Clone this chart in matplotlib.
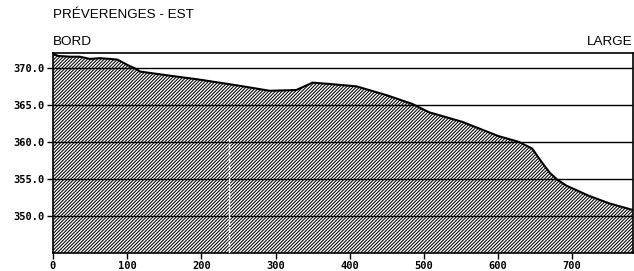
import matplotlib
matplotlib.use('Agg')
import matplotlib.pyplot as plt

plt.rcParams['font.family'] = ['Liberation Sans', 'DejaVu Sans']
plt.rcParams['hatch.linewidth'] = 0.75

# profile: distance from shore (m) vs elevation (m)
dist = [0, 7, 23, 36, 50, 63, 77, 87, 100, 113, 117, 153, 198, 250, 292, 328,
        350, 375, 409, 450, 485, 507, 552, 600, 628, 646, 658, 670, 680, 692,
        723, 750, 782]
elev = [371.9, 371.6, 371.5, 371.5, 371.2, 371.3, 371.2, 371.1, 370.4, 369.8,
        369.5, 369.0, 368.4, 367.6, 366.9, 367.0, 368.0, 367.8, 367.5, 366.3,
        365.1, 364.0, 362.7, 360.8, 360.0, 359.1, 357.4, 355.8, 354.9, 354.1,
        352.7, 351.7, 350.8]

levels = [350, 355, 360, 365, 370]
level_labels = ['350.0', '355.0', '360.0', '365.0', '370.0']
xticks = [0, 100, 200, 300, 400, 500, 600, 700]

y_min, y_max = 345, 372
x_max = 782

fig = plt.figure(figsize=(6.34, 2.71), dpi=100)
ax = fig.add_axes([53 / 634, 18 / 271, 580 / 634, 200 / 271])

ax.fill_between(dist, elev, y_min, facecolor='white', edgecolor='black',
                hatch='//////////', linewidth=0, zorder=1)
for lv in levels:
    ax.axhline(lv, color='black', lw=1.0, zorder=2)
ax.plot(dist, elev, color='black', lw=1.5, zorder=3)

# white survey mark in the hatching
ax.plot([237, 237], [y_min, 360.5], color='white', lw=1.0,
        dashes=(4, 1), zorder=4)

ax.set_xlim(0, x_max)
ax.set_ylim(y_min, y_max)
tick_font = {'family': 'DejaVu Sans Mono', 'weight': 'bold', 'size': 7.5}
ax.set_xticks(xticks)
ax.set_xticklabels([str(t) for t in xticks], fontdict=tick_font)
ax.set_yticks(levels)
ax.set_yticklabels(level_labels, fontdict=tick_font)
ax.tick_params(axis='both', length=4, width=1, pad=2)
for s in ax.spines.values():
    s.set_linewidth(1.2)

fig.text(53 / 634, 1 - 15 / 271, 'PRÉVERENGES - EST', fontsize=9.7,
         ha='left', va='center')
fig.text(53 / 634, 1 - 42 / 271, 'BORD', fontsize=9.7, ha='left', va='center')
fig.text(633 / 634, 1 - 42 / 271, 'LARGE', fontsize=9.7, ha='right',
         va='center')

fig.savefig('out.png', dpi=100)
